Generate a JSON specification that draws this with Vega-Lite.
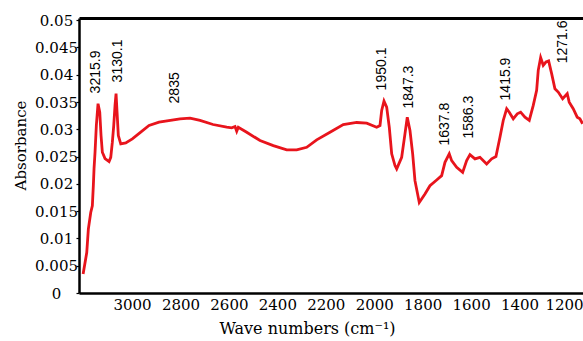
{
  "$schema": "https://vega.github.io/schema/vega-lite/v6.json",
  "width": 504,
  "height": 275,
  "autosize": "none",
  "padding": {"left": 79, "top": 18, "right": 0, "bottom": 48},
  "background": "white",
  "config": {"view": {"stroke": null}, "axis": {"labelOverlap": false, "labelFlush": false, "grid": false}},
  "datasets": {
    "spectrum": [
      {"wn": 3202, "abs": 0.00349}, {"wn": 3187, "abs": 0.00741}, {"wn": 3180.4, "abs": 0.01171},
      {"wn": 3170.5, "abs": 0.01476}, {"wn": 3163.9, "abs": 0.01599}, {"wn": 3159.8, "abs": 0.01967},
      {"wn": 3156.9, "abs": 0.02279}, {"wn": 3152.8, "abs": 0.02579}, {"wn": 3147.4, "abs": 0.0307},
      {"wn": 3140.4, "abs": 0.03469}, {"wn": 3133.3, "abs": 0.03314}, {"wn": 3128, "abs": 0.02886},
      {"wn": 3122.6, "abs": 0.02579}, {"wn": 3111.5, "abs": 0.02463}, {"wn": 3094.9, "abs": 0.02408},
      {"wn": 3087.9, "abs": 0.02487}, {"wn": 3081.3, "abs": 0.02763}, {"wn": 3075.5, "abs": 0.0307},
      {"wn": 3070.2, "abs": 0.03438}, {"wn": 3066, "abs": 0.03653}, {"wn": 3061.9, "abs": 0.03314},
      {"wn": 3056.6, "abs": 0.02886}, {"wn": 3046.6, "abs": 0.02733}, {"wn": 3026, "abs": 0.02752},
      {"wn": 2998.8, "abs": 0.02825}, {"wn": 2964.1, "abs": 0.02947}, {"wn": 2929.8, "abs": 0.0307},
      {"wn": 2888.5, "abs": 0.0313}, {"wn": 2801.9, "abs": 0.03193}, {"wn": 2760.6, "abs": 0.03204},
      {"wn": 2719.3, "abs": 0.03162}, {"wn": 2665.6, "abs": 0.03088}, {"wn": 2609.1, "abs": 0.03039},
      {"wn": 2588.4, "abs": 0.03028}, {"wn": 2574.8, "abs": 0.03051}, {"wn": 2567.8, "abs": 0.02965},
      {"wn": 2561.2, "abs": 0.03039}, {"wn": 2526.5, "abs": 0.02947}, {"wn": 2471.6, "abs": 0.02794},
      {"wn": 2416.7, "abs": 0.02702}, {"wn": 2361.4, "abs": 0.02623}, {"wn": 2320.1, "abs": 0.02623},
      {"wn": 2278.8, "abs": 0.02671}, {"wn": 2237.6, "abs": 0.02807}, {"wn": 2182.7, "abs": 0.02947},
      {"wn": 2127.8, "abs": 0.03088}, {"wn": 2072.4, "abs": 0.03125}, {"wn": 2031.1, "abs": 0.03112},
      {"wn": 1989.9, "abs": 0.03039}, {"wn": 1976.2, "abs": 0.0307}, {"wn": 1969.2, "abs": 0.03346},
      {"wn": 1959.7, "abs": 0.03517}, {"wn": 1948.6, "abs": 0.03406}, {"wn": 1937.9, "abs": 0.03039},
      {"wn": 1927.9, "abs": 0.0255}, {"wn": 1914.3, "abs": 0.02335}, {"wn": 1907.3, "abs": 0.02274},
      {"wn": 1886.7, "abs": 0.02487}, {"wn": 1873.1, "abs": 0.02917}, {"wn": 1863.6, "abs": 0.03222},
      {"wn": 1852.4, "abs": 0.02978}, {"wn": 1841.3, "abs": 0.0255}, {"wn": 1831.8, "abs": 0.02059},
      {"wn": 1814.0, "abs": 0.0166}, {"wn": 1790.5, "abs": 0.01814}, {"wn": 1769.9, "abs": 0.01967},
      {"wn": 1742.2, "abs": 0.02072}, {"wn": 1721.6, "abs": 0.02151}, {"wn": 1707.9, "abs": 0.02395},
      {"wn": 1690.2, "abs": 0.0255}, {"wn": 1680.3, "abs": 0.02426}, {"wn": 1659.6, "abs": 0.02303},
      {"wn": 1634.9, "abs": 0.02211}, {"wn": 1618.4, "abs": 0.02426}, {"wn": 1604.7, "abs": 0.02537},
      {"wn": 1584.1, "abs": 0.02458}, {"wn": 1563.5, "abs": 0.02487}, {"wn": 1535.8, "abs": 0.02366},
      {"wn": 1515.2, "abs": 0.02458}, {"wn": 1497.4, "abs": 0.025}, {"wn": 1480.9, "abs": 0.02855},
      {"wn": 1467.3, "abs": 0.03162}, {"wn": 1453.2, "abs": 0.03377}, {"wn": 1442.5, "abs": 0.03314},
      {"wn": 1426.0, "abs": 0.03193}, {"wn": 1409.5, "abs": 0.03285}, {"wn": 1395.5, "abs": 0.03314},
      {"wn": 1377.7, "abs": 0.03222}, {"wn": 1359.9, "abs": 0.03162}, {"wn": 1343.4, "abs": 0.03438},
      {"wn": 1329.4, "abs": 0.03713}, {"wn": 1322.8, "abs": 0.04081}, {"wn": 1312.9, "abs": 0.04314},
      {"wn": 1302.2, "abs": 0.04173}, {"wn": 1291.0, "abs": 0.04233}, {"wn": 1279.9, "abs": 0.04252},
      {"wn": 1267.5, "abs": 0.0402}, {"wn": 1253.9, "abs": 0.03744}, {"wn": 1240.3, "abs": 0.03682},
      {"wn": 1222.1, "abs": 0.03561}, {"wn": 1203.1, "abs": 0.03653}, {"wn": 1194.9, "abs": 0.03498},
      {"wn": 1178.4, "abs": 0.03377}, {"wn": 1161.9, "abs": 0.03222}, {"wn": 1150.8, "abs": 0.03193},
      {"wn": 1139.7, "abs": 0.03101}
    ],
    "peaks": [
      {"wn": 3148.6, "abs": 0.03658, "label": "3215.9"},
      {"wn": 3057.8, "abs": 0.0386, "label": "3130.1"},
      {"wn": 2822.5, "abs": 0.03474, "label": "2835"},
      {"wn": 1969.3, "abs": 0.03713, "label": "1950.1"},
      {"wn": 1856.5, "abs": 0.03382, "label": "1847.3"},
      {"wn": 1707.9, "abs": 0.02702, "label": "1637.8"},
      {"wn": 1608.9, "abs": 0.02831, "label": "1586.3"},
      {"wn": 1456.1, "abs": 0.03529, "label": "1415.9"},
      {"wn": 1220.8, "abs": 0.0421, "label": "1271.6"}
    ]
  },
  "encoding": {
    "y": {
      "field": "abs", "type": "quantitative",
      "scale": {"domain": [0, 0.0504], "nice": false},
      "axis": {
        "values": [0, 0.005, 0.01, 0.015, 0.02, 0.025, 0.03, 0.035, 0.04, 0.045, 0.05],
        "format": "~g", "domainColor": "black", "domainWidth": 2.5,
        "tickColor": "black", "tickSize": 3, "tickWidth": 1.2,
        "labelAlign": "center", "labelPadding": 20, "labelFont": "DejaVu Serif", "labelFontSize": 15,
        "labelColor": "black",
        "title": "Absorbance", "titleFont": "DejaVu Serif", "titleFontSize": 15,
        "titleFontWeight": "normal", "titleColor": "black", "titleX": -59, "titleY": 127,
        "titleAlign": "center", "titleBaseline": "middle", "titleAngle": 270
      }
    }
  },
  "layer": [
    {
      "data": {"name": "spectrum"},
      "mark": {"type": "line", "color": "#e8141c", "strokeWidth": 2.8, "clip": true},
      "encoding": {
        "x": {
          "field": "wn", "type": "quantitative",
          "scale": {"domain": [1138, 3219], "reverse": true, "nice": false, "zero": false},
          "axis": {
            "orient": "bottom",
            "values": [3000, 2800, 2600, 2400, 2200, 2000, 1800, 1600, 1400, 1200],
            "format": "d",
            "domainColor": "black", "domainWidth": 2.5, "ticks": false,
            "labelFont": "DejaVu Serif", "labelFontSize": 15, "labelColor": "black", "labelPadding": 4,
            "labelOffset": {"condition": {"test": "datum.value == 1200", "value": -4}, "value": 0},
            "title": "Wave numbers (cm⁻¹)", "titleFont": "DejaVu Serif", "titleFontSize": 16,
            "titleFontWeight": "normal", "titleColor": "black", "titleX": 228, "titleY": 27,
            "titleAlign": "center", "titleBaseline": "top"
          }
        }
      }
    },
    {
      "data": {"name": "peaks"},
      "mark": {"type": "text", "angle": 270, "align": "left", "baseline": "middle",
               "font": "Liberation Sans", "fontSize": 14, "color": "black"},
      "encoding": {
        "x": {
          "field": "wn", "type": "quantitative",
          "axis": {"orient": "top", "labels": false, "ticks": false, "title": null,
                   "domainColor": "black", "domainWidth": 3}
        },
        "text": {"field": "label"}
      }
    }
  ],
  "resolve": {"axis": {"x": "independent"}}
}
